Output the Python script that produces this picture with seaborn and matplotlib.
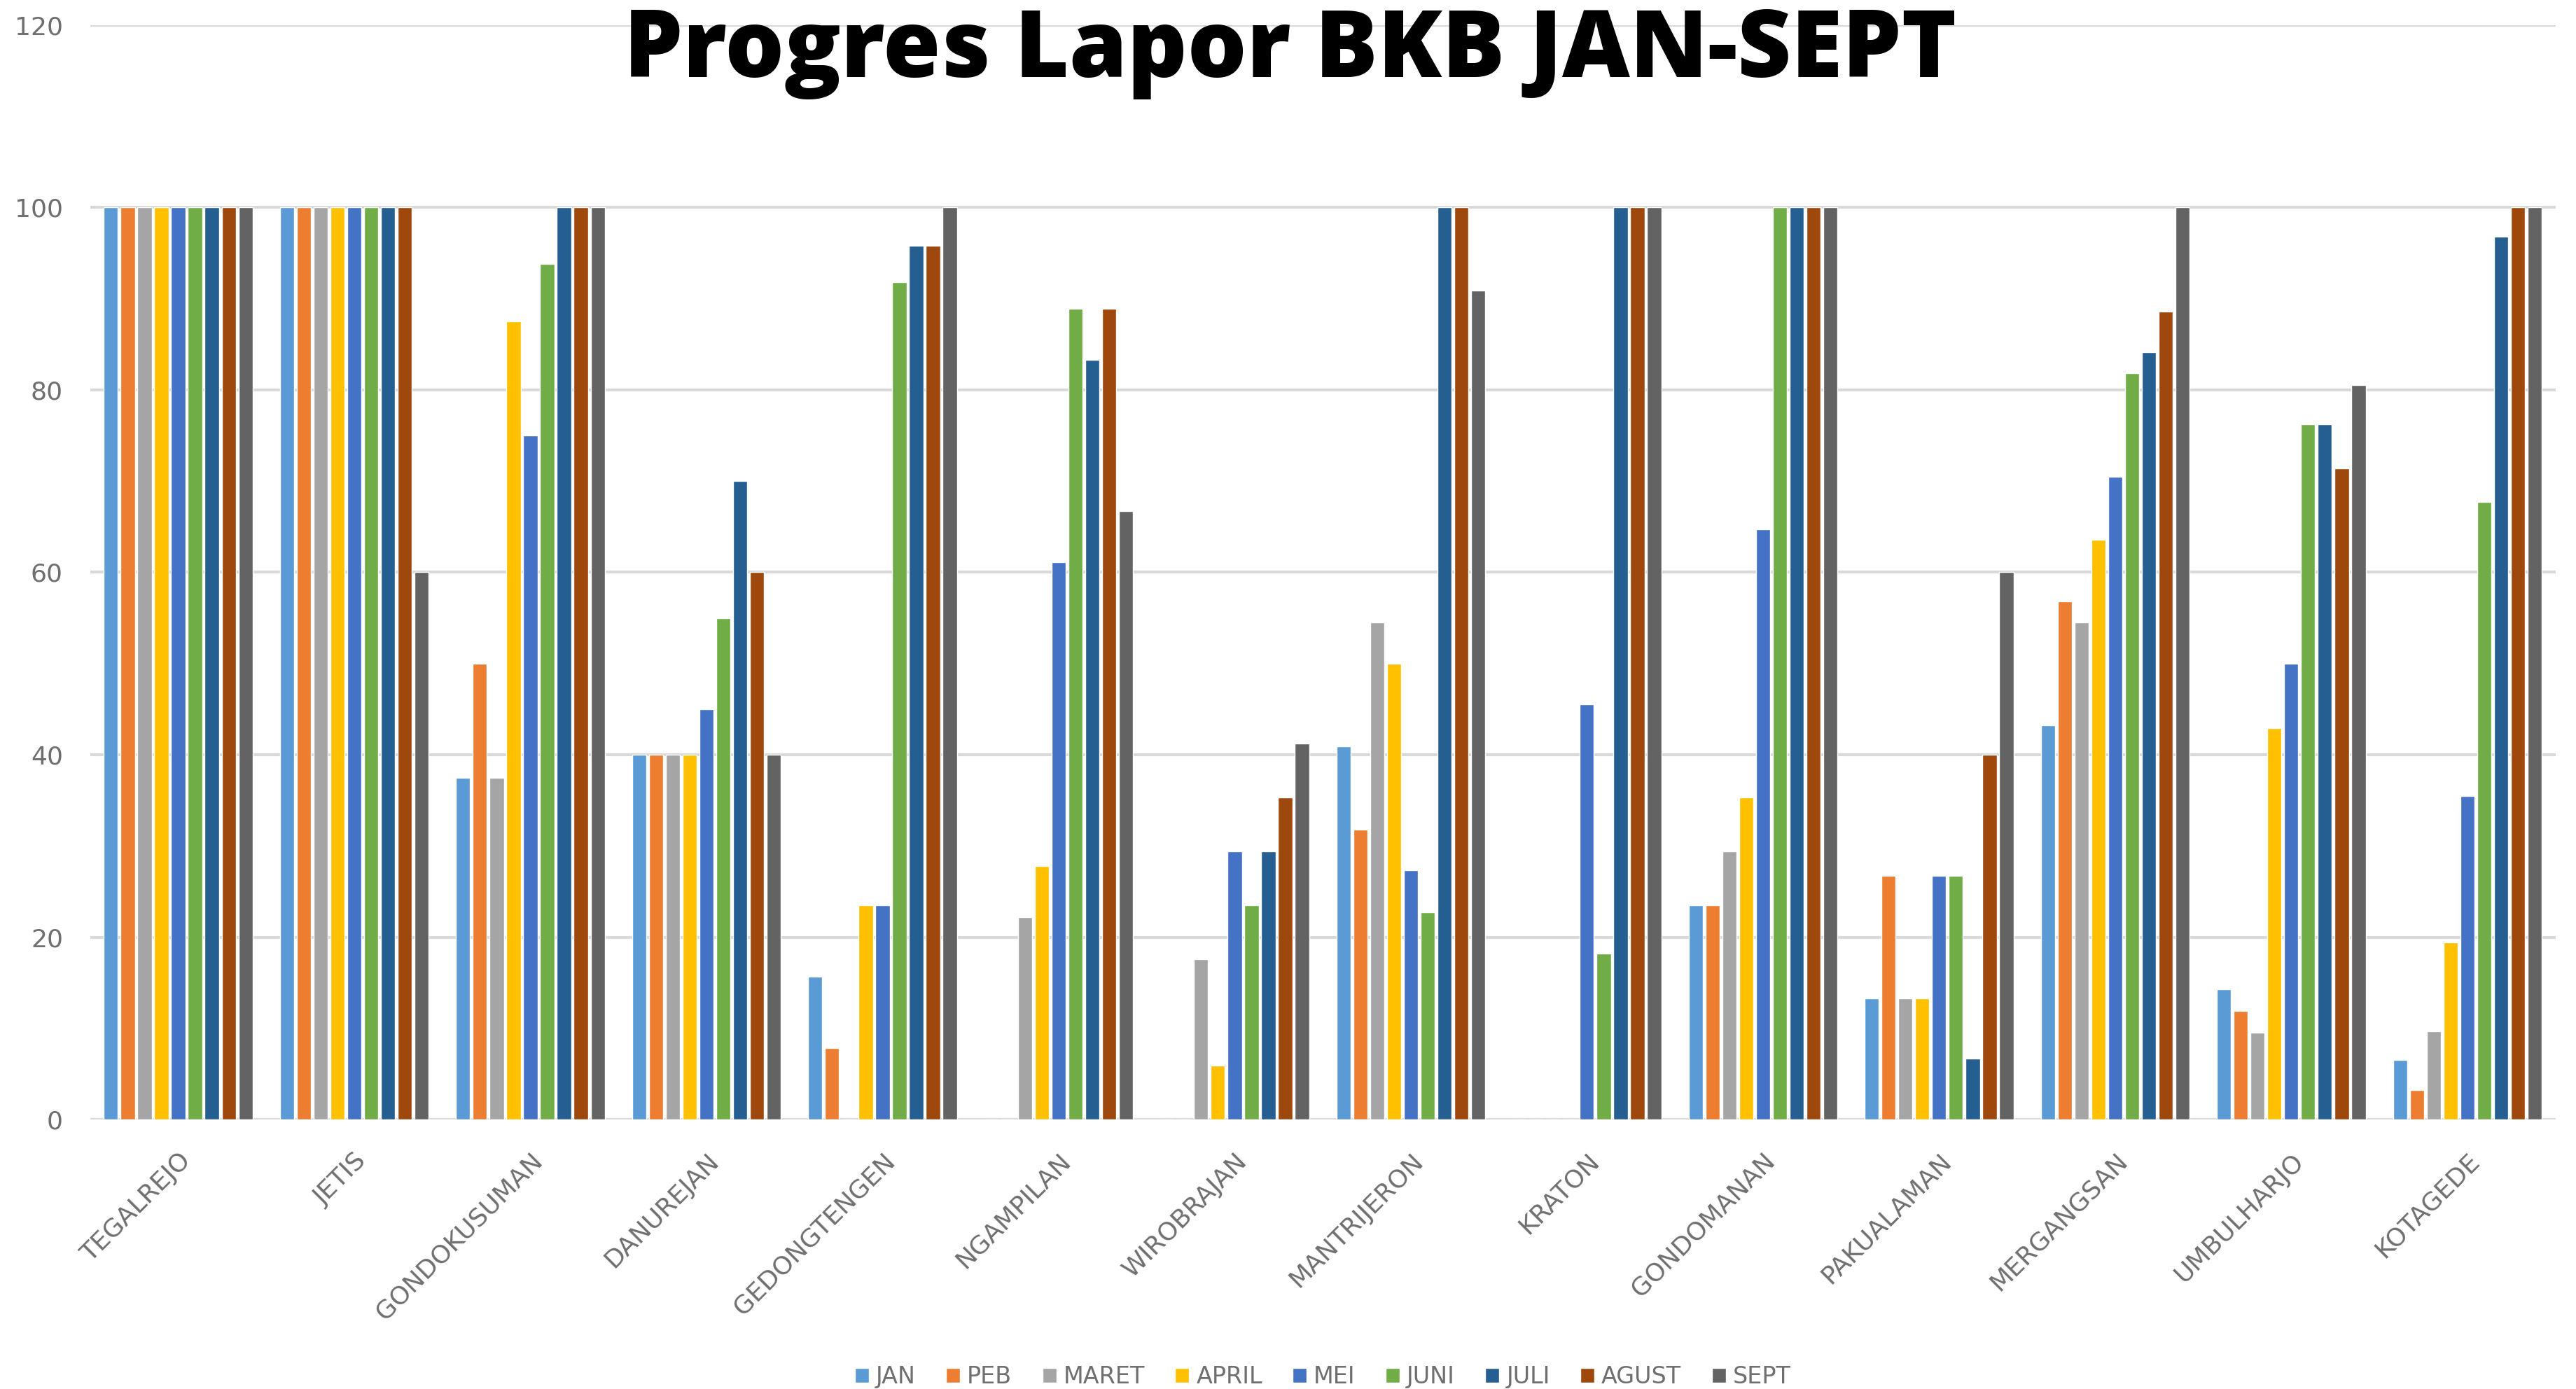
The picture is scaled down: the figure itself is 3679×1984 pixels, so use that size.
import pandas as pd
import seaborn as sns
import matplotlib.pyplot as plt

# Progres Lapor BKB per kemantren, Jan - Sept

kecamatan = ['TEGALREJO', 'JETIS', 'GONDOKUSUMAN', 'DANUREJAN', 'GEDONGTENGEN',
             'NGAMPILAN', 'WIROBRAJAN', 'MANTRIJERON', 'KRATON', 'GONDOMANAN',
             'PAKUALAMAN', 'MERGANGSAN', 'UMBULHARJO', 'KOTAGEDE']
bulan = ['JAN', 'PEB', 'MARET', 'APRIL', 'MEI', 'JUNI', 'JULI', 'AGUST', 'SEPT']

jan = [100, 100, 37.5, 40, 15.7, 0, 0, 40.9, 0, 23.5, 13.3, 43.2, 14.3, 6.5]
peb = [100, 100, 50, 40, 7.8, 0, 0, 31.8, 0, 23.5, 26.7, 56.8, 11.9, 3.2]
maret = [100, 100, 37.5, 40, 0, 22.2, 17.6, 54.5, 0, 29.4, 13.3, 54.5, 9.5, 9.7]
april = [100, 100, 87.5, 40, 23.5, 27.8, 5.9, 50, 0, 35.3, 13.3, 63.6, 42.9, 19.4]
mei = [100, 100, 75, 45, 23.5, 61.1, 29.4, 27.3, 45.5, 64.7, 26.7, 70.5, 50, 35.5]
juni = [100, 100, 93.8, 55, 91.8, 88.9, 23.5, 22.7, 18.2, 100, 26.7, 81.8, 76.2, 67.7]
juli = [100, 100, 100, 70, 95.8, 83.3, 29.4, 100, 100, 100, 6.7, 84.1, 76.2, 96.8]
agust = [100, 100, 100, 60, 95.8, 88.9, 35.3, 100, 100, 100, 40, 88.6, 71.4, 100]
sept = [100, 60, 100, 40, 100, 66.7, 41.2, 90.9, 100, 100, 60, 100, 80.5, 100]

warna = ['#5B9BD5', '#ED7D31', '#A5A5A5', '#FFC000', '#4472C4',
         '#70AD47', '#255E91', '#9E480E', '#636363']

nilai = [jan, peb, maret, april, mei, juni, juli, agust, sept]
rows = []
for b, vals in zip(bulan, nilai):
    for k, v in zip(kecamatan, vals):
        rows.append({'Kecamatan': k, 'Bulan': b, 'Nilai': v})
dtf = pd.DataFrame(rows)

sns.set_style('white')
plt.rcParams['font.family'] = ['Liberation Sans Narrow', 'DejaVu Sans']

fig = plt.figure(figsize=(36.79, 19.84), dpi=100)
ax = fig.add_axes([0.035, 0.194, 0.957, 0.788])

sns.barplot(data=dtf, x='Kecamatan', y='Nilai', hue='Bulan', order=kecamatan,
            hue_order=bulan, palette=warna, width=0.86, gap=0.16,
            saturation=1, errorbar=None, ax=ax)

ax.set_ylim(0, 120)
ax.set_xlim(-0.5, 13.5)
ax.set_yticks(range(0, 121, 20))
ax.yaxis.grid(True, color='#D9D9D9', linewidth=3)
ax.set_axisbelow(True)
for s in ax.spines.values():
    s.set_visible(False)
ax.set_xlabel('')
ax.set_ylabel('')
ax.tick_params(axis='y', labelsize=26, labelcolor='#6F6F6F', length=0, pad=28)
ax.tick_params(axis='x', labelsize=26, labelcolor='#6F6F6F', length=0, pad=30)
plt.setp(ax.get_xticklabels(), rotation=45, ha='right', rotation_mode='anchor')

ax.legend(loc='center', bbox_to_anchor=(0.5, -0.235), ncol=9, frameon=False,
          fontsize=24, labelcolor='#6F6F6F', handlelength=0.6, handleheight=0.6,
          handletextpad=0.3, columnspacing=1.3)

fig.text(0.501, 0.962, 'Progres Lapor BKB JAN-SEPT', ha='center', va='center',
         fontsize=96, fontweight=800, family=['Open Sans', 'DejaVu Sans'],
         color='black')

fig.savefig('out.png', dpi=100, facecolor='white')
